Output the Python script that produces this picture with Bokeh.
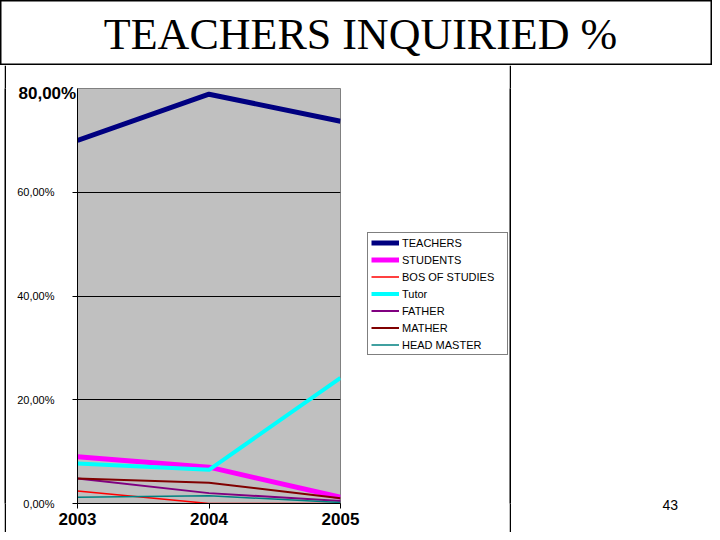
from bokeh.plotting import figure
from bokeh.models import (Range1d, FixedTicker, CustomJSTickFormatter, Label, Title)
from bokeh.layouts import column, row
from bokeh.embed import file_html
from bokeh.resources import INLINE

# ---------------- data (percent) ----------------
years = [2003, 2004, 2005]
teachers = [70.0, 78.9, 73.7]
students = [9.0, 7.0, 1.2]
bos_of_studies = [2.4, 0.0, 0.0]
tutor = [7.7, 6.5, 24.2]
father = [4.8, 2.0, 0.5]
mather = [4.8, 4.0, 1.0]
head_master = [1.2, 1.5, 0.2]

series_names = ["TEACHERS", "STUDENTS", "BOS OF STUDIES", "Tutor", "FATHER", "MATHER", "HEAD MASTER"]
series_values = [teachers, students, bos_of_studies, tutor, father, mather, head_master]
series_colors = ["#000080", "#FF00FF", "#FF0000", "#00FFFF", "#800080", "#800000", "#008080"]
series_widths = [5, 5, 1.5, 4, 2, 2, 1.5]

y_ticks = [0, 20, 40, 60]
title_text = "TEACHERS INQUIRIED %"
top_label = "80,00%"
page_number = "43"


def blank(w, h, color="white"):
    f = figure(width=w, height=h, output_backend="svg", toolbar_location=None,
               x_axis_type=None, y_axis_type=None,
               x_range=Range1d(0, 1), y_range=Range1d(0, 1),
               min_border=0, min_border_left=0, min_border_right=0,
               min_border_top=0, min_border_bottom=0,
               background_fill_color=color, border_fill_color=color,
               outline_line_color=None)
    f.xgrid.visible = False
    f.ygrid.visible = False
    return f


# ---------------- title strip ----------------
TW, TH = 712, 65
title_fig = blank(TW, TH)
title_fig.outline_line_color = "black"
title_fig.outline_line_width = 2
title_fig.add_layout(Label(x=360, y=TH - 34, x_units="screen", y_units="screen",
                           text=title_text, text_align="center", text_baseline="middle",
                           text_font="Liberation Serif", text_font_size="44px",
                           text_color="black"))

# ---------------- chart ----------------
CW, CH = 359, 467
FRAME_BOTTOM = 503  # canvas y of the plot-area bottom (frames of the row are aligned)
p = figure(width=CW, height=CH, output_backend="svg", toolbar_location=None,
           x_range=Range1d(2003, 2005), y_range=Range1d(0, 80),
           min_border_left=71, min_border_right=25,
           min_border_top=23, min_border_bottom=29,
           background_fill_color="#C0C0C0", border_fill_color="white",
           outline_line_color="#808080", outline_line_width=1)

for vals, col, lw in zip(series_values, series_colors, series_widths):
    p.line(years, vals, line_color=col, line_width=lw, line_join="round")

p.xaxis.ticker = FixedTicker(ticks=years)
p.xaxis.major_label_text_font = "Liberation Sans"
p.xaxis.major_label_text_font_style = "bold"
p.xaxis.major_label_text_font_size = "17px"
p.xaxis.major_label_text_color = "black"
p.xaxis.major_tick_out = 5
p.xaxis.major_tick_in = 0
p.xaxis.minor_tick_out = 0
p.xaxis.minor_tick_in = 0
p.xaxis.major_label_standoff = 4
p.xaxis.axis_line_color = "black"
p.xaxis.major_tick_line_color = "black"

p.yaxis.ticker = FixedTicker(ticks=y_ticks)
p.yaxis.formatter = CustomJSTickFormatter(code="return tick.toFixed(2).replace('.', ',') + '%';")
p.yaxis.major_label_text_font = "Liberation Sans"
p.yaxis.major_label_text_font_size = "11px"
p.yaxis.major_label_text_color = "black"
p.yaxis.major_tick_out = 5
p.yaxis.major_tick_in = 0
p.yaxis.minor_tick_out = 0
p.yaxis.minor_tick_in = 0
p.yaxis.major_label_standoff = 18
p.yaxis.axis_line_color = "black"
p.yaxis.major_tick_line_color = "black"

p.xgrid.grid_line_color = None
p.ygrid.grid_line_color = "black"
p.ygrid.grid_line_width = 1

top_title = Title(text=top_label, align="left", offset=-59, vertical_align="bottom",
                  text_font="Liberation Sans", text_font_style="bold",
                  text_font_size="17px", text_color="black")
try:
    top_title.standoff = -29
except Exception:
    top_title.standoff = 0
p.add_layout(top_title, "above")

# ---------------- legend panel (own figure, legend drawn from the series) ----------------
LW = 144
legend_fig = blank(LW, CH)
legend_fig.x_range = Range1d(2003, 2005)
legend_fig.y_range = Range1d(0, 80)
for name, vals, col, lw in zip(series_names, series_values, series_colors, series_widths):
    legend_fig.line(years, vals, line_color=col, line_width=lw, legend_label=name, visible=False)

lg = legend_fig.legend[0]
lg.location = (2, FRAME_BOTTOM - 355)
lg.border_line_color = "black"
lg.border_line_width = 1
lg.background_fill_color = "white"
lg.background_fill_alpha = 1
lg.label_text_font = "Liberation Sans"
lg.label_text_font_size = "11px"
lg.label_text_color = "black"
lg.label_height = 13
lg.glyph_height = 13
lg.glyph_width = 28
lg.label_standoff = 3
lg.label_width = 102
lg.spacing = 4
lg.padding = 3
lg.margin = 0
lg.click_policy = "none"

# ---------------- frame lines and right area ----------------
left_pad = blank(4, CH)
left_line = blank(2, CH, "black")
right_line = blank(2, CH, "black")
RW = TW - 4 - 2 - CW - LW - 2
right_fig = blank(RW, CH)
num_title = Title(text=page_number, align="left", offset=662 - (TW - RW), vertical_align="top",
                  text_font="Liberation Sans", text_font_style="normal",
                  text_font_size="14px", text_color="black")
try:
    num_title.standoff = -7
except Exception:
    num_title.standoff = 0
right_fig.add_layout(num_title, "below")

layout = column(title_fig,
                row(left_pad, left_line, p, legend_fig, right_line, right_fig, spacing=0),
                spacing=0)

open("out.html", "w").write(file_html(layout, INLINE))
